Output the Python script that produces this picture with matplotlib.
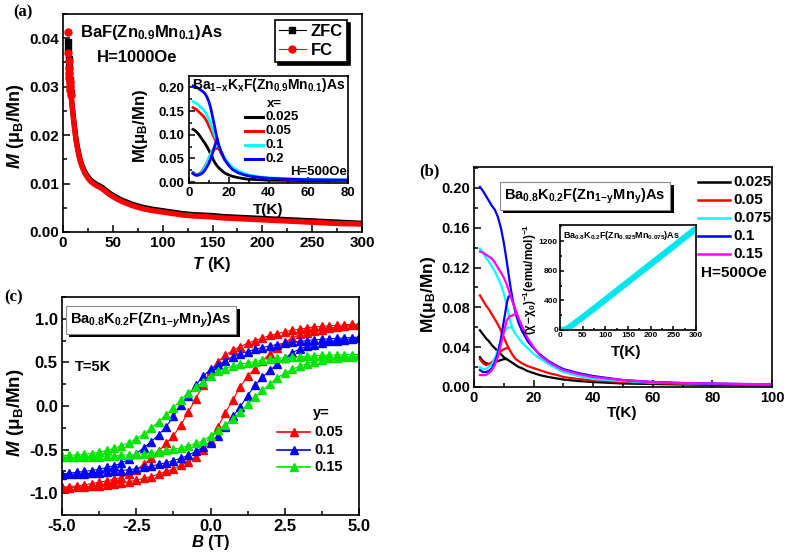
import matplotlib
matplotlib.use('Agg')
import matplotlib.pyplot as plt
import matplotlib.patheffects as pe
from matplotlib.ticker import MultipleLocator, FormatStrFormatter
from matplotlib.lines import Line2D

plt.rcParams['font.family'] = 'Liberation Sans'
plt.rcParams['font.weight'] = 'bold'
plt.rcParams['axes.labelweight'] = 'bold'
plt.rcParams['mathtext.fontset'] = 'custom'
plt.rcParams['mathtext.rm'] = 'Liberation Sans:bold'
plt.rcParams['mathtext.bf'] = 'Liberation Sans:bold'
plt.rcParams['mathtext.it'] = 'Liberation Sans:italic:bold'
plt.rcParams['mathtext.bfit'] = 'Liberation Sans:italic:bold'
plt.rcParams['mathtext.sf'] = 'Liberation Sans:bold'
plt.rcParams['axes.linewidth'] = 1.2

# ---------------- data ----------------
# (a) BaF(Zn0.9Mn0.1)As, H=1000 Oe
a_T = [5, 5.3, 5.6, 5.9, 6.2, 6.5, 6.8, 7.1, 7.5, 8, 9, 10, 11, 12, 13, 14, 16, 18, 20, 22,
       25, 28, 31, 34, 37, 40, 43, 46, 50, 55, 60, 65, 70, 75, 80, 90, 100, 110, 120, 130,
       140, 150, 160, 170, 180, 190, 200, 210, 220, 230, 240, 250, 260, 270, 280, 290, 300]
a_fc = [0.0413, 0.0370, 0.0352, 0.0338, 0.0328, 0.0318, 0.0310, 0.0302, 0.0293, 0.0283,
        0.0262, 0.0243, 0.0224, 0.0207, 0.0190, 0.0178, 0.0157, 0.0141, 0.0130, 0.0121,
        0.0111, 0.0104, 0.0099, 0.0095, 0.0092, 0.0088, 0.0083, 0.0078, 0.0073, 0.0067,
        0.0062, 0.0058, 0.0054, 0.0051, 0.0048, 0.0044, 0.0041, 0.0038, 0.0035, 0.0033,
        0.0032, 0.0031, 0.0029, 0.0028, 0.0027, 0.0026, 0.0025, 0.0024, 0.0023, 0.0022,
        0.0021, 0.0020, 0.0019, 0.0018, 0.0017, 0.0017, 0.0016]
a_zfc = [0.0392, 0.0378, 0.0358, 0.0343, 0.0332, 0.0322, 0.0313, 0.0305, 0.0296, 0.0286,
         0.0265, 0.0246, 0.0227, 0.0210, 0.0193, 0.0181, 0.0160, 0.0144, 0.0133, 0.0124,
         0.0114, 0.0107, 0.0102, 0.0098, 0.0095, 0.0091, 0.0086, 0.0081, 0.0076, 0.0070,
         0.0065, 0.0061, 0.0057, 0.0054, 0.0051, 0.0047, 0.0044, 0.0041, 0.0038, 0.0036,
         0.0035, 0.0034, 0.0032, 0.0031, 0.0030, 0.0029, 0.0028, 0.0027, 0.0026, 0.0025,
         0.0024, 0.0023, 0.0022, 0.0021, 0.0020, 0.0019, 0.0018]

# (a) inset: Ba1-xKxF(Zn0.9Mn0.1)As, H=500 Oe
ai_labels = ['0.025', '0.05', '0.1', '0.2']
ai_colors = ['#000000', '#ff0000', '#00ffff', '#0000ff']
ai_T = [2, 3, 4, 5, 6, 7, 8, 9, 10, 11, 12, 13, 14, 15, 16, 18, 20, 22, 25, 28, 30, 35, 40, 50, 60, 70, 80]
ai_fc = [
    [0.111, 0.109, 0.105, 0.100, 0.094, 0.088, 0.082, 0.075, 0.067, 0.058, 0.049, 0.041, 0.035,
     0.030, 0.026, 0.019, 0.015, 0.012, 0.009, 0.007, 0.006, 0.005, 0.004, 0.0035, 0.003, 0.003, 0.003],
    [0.157, 0.155, 0.152, 0.148, 0.144, 0.140, 0.135, 0.128, 0.119, 0.110, 0.100, 0.091, 0.081,
     0.071, 0.062, 0.047, 0.036, 0.028, 0.021, 0.016, 0.014, 0.010, 0.008, 0.006, 0.005, 0.0045, 0.004],
    [0.170, 0.168, 0.166, 0.162, 0.158, 0.154, 0.149, 0.142, 0.133, 0.122, 0.110, 0.098, 0.087,
     0.076, 0.066, 0.050, 0.039, 0.031, 0.023, 0.018, 0.015, 0.011, 0.009, 0.007, 0.0055, 0.005, 0.0045],
    [0.203, 0.202, 0.200, 0.197, 0.194, 0.191, 0.187, 0.180, 0.170, 0.155, 0.135, 0.115, 0.094,
     0.078, 0.066, 0.047, 0.035, 0.026, 0.019, 0.015, 0.013, 0.010, 0.008, 0.006, 0.005, 0.0045, 0.004],
]
ai_zfc_T = [
    [2, 3, 4, 5, 6, 7, 8, 9, 10, 11, 11.5],
    [2, 3, 4, 5, 6, 7, 8, 9, 10, 11, 12, 13, 14, 15],
    [2, 3, 4, 5, 6, 7, 8, 9, 10, 11, 12, 13, 14.5],
    [2, 3, 4, 5, 6, 7, 8, 9, 10, 11, 12, 13, 14.2],
]
ai_zfc = [
    [0.020, 0.017, 0.016, 0.017, 0.020, 0.025, 0.032, 0.040, 0.045, 0.050, 0.053],
    [0.019, 0.016, 0.015, 0.016, 0.019, 0.024, 0.031, 0.040, 0.050, 0.060, 0.067, 0.070, 0.071, 0.071],
    [0.019, 0.016, 0.015, 0.016, 0.019, 0.024, 0.031, 0.040, 0.050, 0.060, 0.068, 0.074, 0.081],
    [0.018, 0.015, 0.014, 0.015, 0.017, 0.020, 0.025, 0.032, 0.040, 0.050, 0.063, 0.077, 0.091],
]

# (b) Ba0.8K0.2F(Zn1-yMny)As, H=500 Oe
b_labels = ['0.025', '0.05', '0.075', '0.1', '0.15']
b_colors = ['#000000', '#ff0000', '#00ffff', '#0000ff', '#ff00ff']
b_T = [2, 3, 4, 5, 6, 7, 8, 9, 10, 11, 12, 13, 14, 15, 16, 18, 20, 22, 25, 28, 30, 35, 40, 50, 60, 70, 80, 90, 100]
b_fc = [
    [0.057, 0.053, 0.049, 0.046, 0.042, 0.039, 0.036, 0.033, 0.030, 0.028, 0.026, 0.024, 0.022, 0.020,
     0.019, 0.016, 0.014, 0.012, 0.010, 0.0085, 0.0075, 0.006, 0.005, 0.0035, 0.003, 0.0025, 0.0022, 0.002, 0.0018],
    [0.092, 0.087, 0.082, 0.078, 0.073, 0.068, 0.063, 0.057, 0.050, 0.043, 0.037, 0.032, 0.028, 0.026,
     0.024, 0.021, 0.019, 0.017, 0.014, 0.012, 0.010, 0.008, 0.0065, 0.005, 0.004, 0.0033, 0.003, 0.0027, 0.0025],
    [0.139, 0.135, 0.130, 0.126, 0.121, 0.116, 0.110, 0.103, 0.094, 0.082, 0.068, 0.058, 0.053, 0.049,
     0.045, 0.039, 0.033, 0.029, 0.023, 0.018, 0.015, 0.011, 0.008, 0.006, 0.0045, 0.0038, 0.0032, 0.0028, 0.0025],
    [0.201, 0.197, 0.192, 0.187, 0.182, 0.178, 0.171, 0.160, 0.145, 0.126, 0.105, 0.087, 0.074, 0.064,
     0.057, 0.046, 0.039, 0.033, 0.026, 0.021, 0.018, 0.014, 0.011, 0.007, 0.005, 0.004, 0.0035, 0.003, 0.0028],
    [0.136, 0.135, 0.133, 0.131, 0.129, 0.125, 0.120, 0.115, 0.110, 0.103, 0.094, 0.085, 0.077, 0.069,
     0.062, 0.049, 0.040, 0.032, 0.025, 0.020, 0.017, 0.013, 0.010, 0.007, 0.005, 0.004, 0.0035, 0.003, 0.0028],
]
b_zfc_T = [
    [2, 3, 4, 5, 6, 7, 8, 9, 10, 11],
    [2, 3, 4, 5, 6, 7, 8, 9, 10, 11, 11.7],
    [2, 3, 4, 5, 6, 7, 8, 9, 10, 11, 12, 12.8],
    [2, 3, 4, 5, 6, 7, 8, 9, 10, 11, 11.5, 12, 12.7],
    [2, 3, 4, 5, 6, 7, 8, 9, 10, 11, 12, 13, 14.3],
]
b_zfc = [
    [0.030, 0.026, 0.024, 0.023, 0.024, 0.025, 0.026, 0.027, 0.028, 0.028],
    [0.028, 0.024, 0.022, 0.023, 0.025, 0.028, 0.032, 0.036, 0.038, 0.039, 0.039],
    [0.020, 0.018, 0.018, 0.020, 0.023, 0.029, 0.037, 0.046, 0.054, 0.059, 0.060, 0.060],
    [0.017, 0.015, 0.015, 0.016, 0.019, 0.025, 0.034, 0.048, 0.066, 0.084, 0.090, 0.092, 0.092],
    [0.012, 0.012, 0.012, 0.014, 0.017, 0.022, 0.030, 0.042, 0.055, 0.067, 0.071, 0.072, 0.074],
]

# (b) inset: inverse susceptibility of y=0.075
bi_T = [2, 5, 10, 15, 20, 30, 50, 100, 150, 200, 250, 300]
bi_chi = [8, 3, 5, 15, 35, 80, 171, 410, 650, 890, 1130, 1372]

# (c) M(B) loops at 5 K, descending-field branch
c_labels = ['0.05', '0.1', '0.15']
c_colors = ['#ff0000', '#0000ff', '#00e600']
c_B = [-5.0, -4.75, -4.5, -4.25, -4.0, -3.75, -3.5, -3.25, -3.0, -2.75, -2.5, -2.25, -2.0, -1.75,
       -1.5, -1.25, -1.0, -0.75, -0.5, -0.25, 0.0, 0.25, 0.5, 0.75, 1.0, 1.25, 1.5, 1.75, 2.0,
       2.25, 2.5, 2.75, 3.0, 3.25, 3.5, 3.75, 4.0, 4.25, 4.5, 4.75, 5.0]
c_down = [
    [-0.93, -0.925, -0.915, -0.905, -0.89, -0.875, -0.86, -0.84, -0.82, -0.78, -0.73, -0.67, -0.60,
     -0.52, -0.43, -0.34, -0.22, -0.07, 0.08, 0.24, 0.40, 0.51, 0.58, 0.64, 0.68, 0.72, 0.75, 0.78,
     0.81, 0.83, 0.85, 0.87, 0.88, 0.895, 0.905, 0.915, 0.92, 0.925, 0.93, 0.935, 0.94],
    [-0.78, -0.77, -0.76, -0.75, -0.74, -0.725, -0.705, -0.685, -0.655, -0.61, -0.545, -0.48, -0.41,
     -0.33, -0.24, -0.12, 0.01, 0.12, 0.24, 0.34, 0.42, 0.47, 0.52, 0.565, 0.60, 0.625, 0.65, 0.67,
     0.69, 0.705, 0.72, 0.73, 0.74, 0.75, 0.76, 0.765, 0.77, 0.775, 0.78, 0.785, 0.79],
    [-0.57, -0.565, -0.56, -0.555, -0.545, -0.53, -0.51, -0.485, -0.455, -0.42, -0.375, -0.325, -0.255,
     -0.18, -0.10, -0.02, 0.07, 0.15, 0.215, 0.275, 0.34, 0.40, 0.43, 0.455, 0.48, 0.495, 0.51, 0.525,
     0.535, 0.545, 0.555, 0.56, 0.565, 0.57, 0.575, 0.58, 0.583, 0.585, 0.588, 0.59, 0.59],
]

# ---------------- layout helpers (pixel positions of the 787x558 picture) ----------------
W, H = 787, 558
fig = plt.figure(figsize=(7.87, 5.58), dpi=100)


def fx(x):
    return x / W


def fy(y):
    return 1 - y / H


def box(l, t, r, b):
    return [l / W, 1 - b / H, (r - l) / W, (b - t) / H]


def style(ax, size, major=5, minor=3, pad=3):
    ax.tick_params(which='both', direction='in', top=False, right=False, width=1.1, labelsize=size, pad=pad)
    ax.tick_params(which='major', length=major)
    ax.tick_params(which='minor', length=minor)
    for s in ax.spines.values():
        s.set_linewidth(1.2)


def shadow_box(t, ec='0.55'):
    t.set_bbox(dict(boxstyle='square,pad=0.3', fc='white', ec=ec, lw=0.8))
    t.get_bbox_patch().set_path_effects([pe.SimplePatchShadow(offset=(2.5, -2.5), shadow_rgbFace='black', alpha=1.0),
                                         pe.Normal()])


def rows(x0, x1, xt, y0, dy, colors, labels, size, lw=2.0, marker=None):
    for i, (c, lab) in enumerate(zip(colors, labels)):
        y = y0 + i * dy
        if marker is None:
            fig.add_artist(Line2D([fx(x0), fx(x1)], [fy(y), fy(y)], color=c, lw=lw))
        else:
            fig.add_artist(Line2D([fx(x0), fx((x0 + x1) / 2), fx(x1)], [fy(y)] * 3, color=c, lw=lw,
                                  marker=marker, markevery=[1], ms=5.5, mec=c))
        fig.text(fx(xt), fy(y), lab, fontsize=size, va='center', ha='left')


# ---------------- (a) ----------------
ax_a = fig.add_axes(box(63, 14, 362, 232))
style(ax_a, 11)
ax_a.plot(a_T[:10], a_zfc[:10], 's', color='black', ms=4.5)
ax_a.plot(a_T[8:], a_zfc[8:], '-', color='black', lw=3.8)
ax_a.plot(a_T[:10], a_fc[:10], 'o', color='#ff0000', ms=5)
ax_a.plot(a_T[8:], a_fc[8:], '-', color='#ff0000', lw=3.8)
ax_a.set_xlim(0, 300)
ax_a.set_ylim(0, 0.045)
ax_a.xaxis.set_major_locator(MultipleLocator(50))
ax_a.xaxis.set_minor_locator(MultipleLocator(25))
ax_a.yaxis.set_major_locator(MultipleLocator(0.01))
ax_a.yaxis.set_minor_locator(MultipleLocator(0.005))
ax_a.yaxis.set_major_formatter(FormatStrFormatter('%.2f'))
ax_a.set_xlabel(r'$\mathbfit{T}\ \mathbf{(K)}$', fontsize=12, va='center')
ax_a.xaxis.set_label_coords(fx(212), fy(265), transform=fig.transFigure)
ax_a.set_ylabel(r'$\mathbfit{M}\ \mathbf{(μ_B/Mn)}$', fontsize=13, va='center')
ax_a.yaxis.set_label_coords(fx(16), fy(126), transform=fig.transFigure)
fig.text(fx(80), fy(33), r'$\mathbf{BaF(Zn_{0.9}Mn_{0.1})As}$', fontsize=12, va='center')
fig.text(fx(97), fy(57), 'H=1000Oe', fontsize=12, va='center')
handles = [Line2D([], [], color='black', lw=0.8, marker='s', ms=4.5),
           Line2D([], [], color='#ff0000', lw=0.8, marker='o', ms=5)]
leg = ax_a.legend(handles, ['ZFC', 'FC'], loc='upper right', bbox_to_anchor=(fx(347), fy(20)),
                  bbox_transform=fig.transFigure, fontsize=12, frameon=True, fancybox=False,
                  edgecolor='black', framealpha=1, borderaxespad=0, borderpad=0.25,
                  handlelength=1.6, handletextpad=0.3, labelspacing=0.2,
                  shadow={'color': 'black', 'alpha': 1, 'ox': 2.5, 'oy': -2.5})
leg.get_frame().set_linewidth(1.2)

# (a) inset
ax_ai = fig.add_axes(box(189, 76, 348, 183))
style(ax_ai, 9.5, 4, 2)
for c, fc, zt, zm in zip(ai_colors, ai_fc, ai_zfc_T, ai_zfc):
    ax_ai.plot(ai_T, fc, color=c, lw=2)
    ax_ai.plot(zt, zm, color=c, lw=2)
ax_ai.set_xlim(0, 80)
ax_ai.set_ylim(-0.002, 0.224)
ax_ai.xaxis.set_major_locator(MultipleLocator(20))
ax_ai.xaxis.set_minor_locator(MultipleLocator(10))
ax_ai.yaxis.set_major_locator(MultipleLocator(0.05))
ax_ai.yaxis.set_minor_locator(MultipleLocator(0.025))
ax_ai.yaxis.set_major_formatter(FormatStrFormatter('%.2f'))
ax_ai.set_xlabel('T(K)', fontsize=11, va='center')
ax_ai.xaxis.set_label_coords(fx(268), fy(210), transform=fig.transFigure)
ax_ai.set_ylabel(r'$\mathbf{M(μ_B/Mn)}$', fontsize=12, va='center')
ax_ai.yaxis.set_label_coords(fx(140), fy(126), transform=fig.transFigure)
fig.text(fx(269), fy(85), r'$\mathbf{Ba_{1\!-\!x}K_xF(Zn_{0.9}Mn_{0.1})As}$', fontsize=10, va='center', ha='center')
fig.text(fx(267), fy(104), 'x=', fontsize=9.5, va='center')
rows(245, 263, 266, 117, 14, ai_colors, ai_labels, 9.5, lw=2.2)
fig.text(fx(347), fy(172), 'H=500Oe', fontsize=9.5, va='center', ha='right')

# ---------------- (b) ----------------
ax_b = fig.add_axes(box(474, 167, 772, 387))
style(ax_b, 10.5)
for c, fc, zt, zm in zip(b_colors, b_fc, b_zfc_T, b_zfc):
    ax_b.plot(b_T, fc, color=c, lw=1.6)
    ax_b.plot(zt, zm, color=c, lw=1.6)
ax_b.set_xlim(0, 100)
ax_b.set_ylim(0, 0.221)
ax_b.xaxis.set_major_locator(MultipleLocator(20))
ax_b.xaxis.set_minor_locator(MultipleLocator(10))
ax_b.yaxis.set_major_locator(MultipleLocator(0.04))
ax_b.yaxis.set_minor_locator(MultipleLocator(0.02))
ax_b.yaxis.set_major_formatter(FormatStrFormatter('%.2f'))
ax_b.set_xlabel('T(K)', fontsize=11, va='center')
ax_b.xaxis.set_label_coords(fx(622), fy(413), transform=fig.transFigure)
ax_b.set_ylabel(r'$\mathbf{M(μ_B/Mn)}$', fontsize=12.5, va='center')
ax_b.yaxis.set_label_coords(fx(428), fy(294), transform=fig.transFigure)
tb = fig.text(fx(585), fy(196), r'$\mathbf{Ba_{0.8}K_{0.2}F(Zn_{1\!-\!y}Mn_y)As}$', fontsize=10.5,
              va='center', ha='center')
shadow_box(tb)
rows(698, 730, 733, 182, 18, b_colors, b_labels, 11, lw=1.8)
fig.text(fx(767), fy(273), 'H=500Oe', fontsize=11, va='center', ha='right')
fig.text(fx(429), fy(171), '(b)', family='Liberation Serif', fontsize=12, weight='bold', va='center', ha='center')

# (b) inset
ax_bi = fig.add_axes(box(560, 225, 696, 330))
style(ax_bi, 6, 3, 1.5, pad=1.5)
ax_bi.plot(bi_T, bi_chi, color='#00e5ee', lw=4.5, solid_capstyle='butt')
ax_bi.set_xlim(0, 300)
ax_bi.set_ylim(0, 1420)
ax_bi.xaxis.set_major_locator(MultipleLocator(50))
ax_bi.xaxis.set_minor_locator(MultipleLocator(25))
ax_bi.yaxis.set_major_locator(MultipleLocator(400))
ax_bi.yaxis.set_minor_locator(MultipleLocator(200))
ax_bi.set_xlabel('T(K)', fontsize=11, va='center')
ax_bi.xaxis.set_label_coords(fx(626), fy(352), transform=fig.transFigure)
ax_bi.set_ylabel(r'$\mathbf{(χ\!-\!χ_0)^{-1}(emu/mol)^{-1}}$', fontsize=8.5, va='center')
ax_bi.yaxis.set_label_coords(fx(530), fy(279), transform=fig.transFigure)
fig.text(fx(563), fy(236), r'$\mathbf{Ba_{0.8}K_{0.2}F(Zn_{0.925}Mn_{0.075})As}$', fontsize=6.5, va='center')

# ---------------- (c) ----------------
ax_c = fig.add_axes(box(62, 297, 359, 515))
style(ax_c, 12)
for c, down in zip(c_colors, c_down):
    # ascending branch: point reflection of the descending one through the origin
    up = [-m for m in down[::-1]]
    ax_c.plot(c_B, down, '-', marker='^', color=c, ms=5.5, lw=0.8, mec=c)
    ax_c.plot(c_B, up, '-', marker='^', color=c, ms=5.5, lw=0.8, mec=c)
ax_c.set_xlim(-5, 5)
ax_c.set_ylim(-1.25, 1.25)
ax_c.xaxis.set_major_locator(MultipleLocator(2.5))
ax_c.xaxis.set_minor_locator(MultipleLocator(1.25))
ax_c.yaxis.set_major_locator(MultipleLocator(0.5))
ax_c.yaxis.set_minor_locator(MultipleLocator(0.25))
ax_c.xaxis.set_major_formatter(FormatStrFormatter('%.1f'))
ax_c.yaxis.set_major_formatter(FormatStrFormatter('%.1f'))
ax_c.set_xlabel(r'$\mathbfit{B}\ \mathbf{(T)}$', fontsize=12, va='center')
ax_c.xaxis.set_label_coords(fx(211), fy(543), transform=fig.transFigure)
ax_c.set_ylabel(r'$\mathbfit{M}\ \mathbf{(μ_B/Mn)}$', fontsize=13.5, va='center')
ax_c.yaxis.set_label_coords(fx(16), fy(413), transform=fig.transFigure)
tc = fig.text(fx(151), fy(320), r'$\mathbf{Ba_{0.8}K_{0.2}F(Zn}_{\mathbf{1\!-\!}\mathbfit{y}}\mathbf{Mn}_{\mathbfit{y}}\mathbf{)As}$',
              fontsize=10.5, va='center', ha='center')
shadow_box(tc)
fig.text(fx(75), fy(367), 'T=5K', fontsize=10.5, va='center')
fig.text(fx(313), fy(413), 'y=', fontsize=10.5, va='center')
rows(277, 310, 314, 432, 17.5, c_colors, c_labels, 10.5, lw=1.2, marker='^')

fig.text(fx(23), fy(12), '(a)', family='Liberation Serif', fontsize=12, weight='bold', va='center', ha='center')
fig.text(fx(14), fy(297), '(c)', family='Liberation Serif', fontsize=12, weight='bold', va='center', ha='center')

fig.savefig('out.png', dpi=100)
